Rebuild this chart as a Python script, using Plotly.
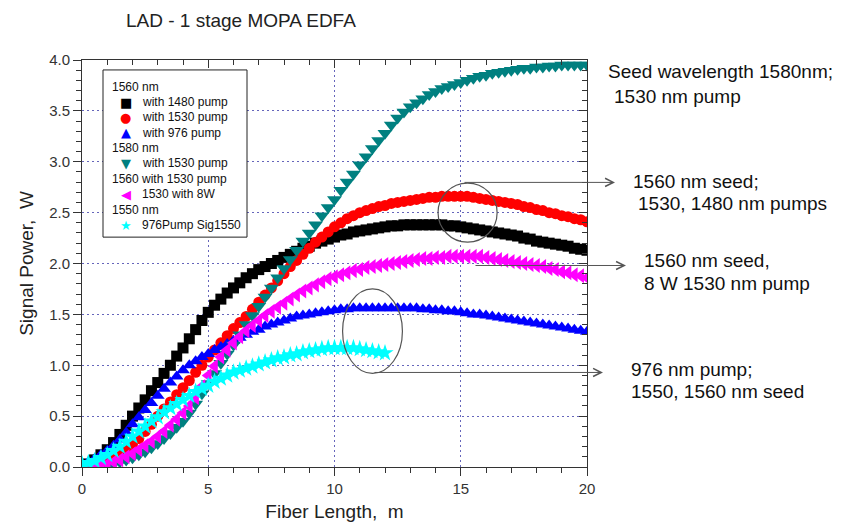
import numpy as np
import plotly.graph_objects as go

# ---------------- data ----------------
fiber_len = np.round(np.arange(0, 20.001, 0.25), 2)      # m
fiber_len_1550 = fiber_len[:49]                           # 0 .. 12 m

sig1560_p1480 = [0.00, 0.03, 0.07, 0.12, 0.17, 0.24, 0.32, 0.41, 0.50, 0.58,
                 0.66, 0.75, 0.83, 0.92, 1.00, 1.09, 1.17, 1.26, 1.35, 1.44,
                 1.52, 1.59, 1.65, 1.71, 1.76, 1.81, 1.86, 1.90, 1.94, 1.97,
                 2.00, 2.03, 2.06, 2.09, 2.12, 2.15, 2.17, 2.20, 2.22, 2.24,
                 2.26, 2.28, 2.29, 2.31, 2.32, 2.33, 2.34, 2.35, 2.36, 2.37,
                 2.37, 2.38, 2.38, 2.38, 2.38, 2.38, 2.38, 2.38, 2.37, 2.37,
                 2.36, 2.35, 2.34, 2.33, 2.32, 2.31, 2.30, 2.29, 2.28, 2.27,
                 2.25, 2.24, 2.22, 2.21, 2.20, 2.19, 2.18, 2.17, 2.15, 2.14,
                 2.13]

sig1560_p1530 = [0.00, 0.00, 0.01, 0.03, 0.05, 0.08, 0.12, 0.17, 0.22, 0.28,
                 0.35, 0.42, 0.50, 0.57, 0.64, 0.71, 0.78, 0.85, 0.93, 1.00,
                 1.08, 1.15, 1.22, 1.29, 1.36, 1.42, 1.48, 1.55, 1.62, 1.69,
                 1.76, 1.83, 1.90, 1.97, 2.03, 2.09, 2.15, 2.21, 2.26, 2.31,
                 2.36, 2.40, 2.44, 2.47, 2.50, 2.52, 2.54, 2.56, 2.57, 2.59,
                 2.60, 2.61, 2.62, 2.63, 2.64, 2.65, 2.65, 2.66, 2.66, 2.66,
                 2.66, 2.66, 2.65, 2.64, 2.63, 2.62, 2.61, 2.60, 2.59, 2.58,
                 2.56, 2.55, 2.53, 2.52, 2.50, 2.49, 2.47, 2.46, 2.44, 2.43,
                 2.41]

sig1560_p976 = [0.02, 0.05, 0.08, 0.12, 0.16, 0.21, 0.27, 0.34, 0.42, 0.49,
                0.56, 0.63, 0.70, 0.77, 0.83, 0.89, 0.95, 1.00, 1.04, 1.08,
                1.11, 1.15, 1.18, 1.21, 1.24, 1.27, 1.30, 1.33, 1.35, 1.38,
                1.40, 1.42, 1.44, 1.46, 1.48, 1.49, 1.50, 1.51, 1.52, 1.53,
                1.54, 1.55, 1.55, 1.56, 1.56, 1.56, 1.56, 1.56, 1.56, 1.56,
                1.56, 1.56, 1.56, 1.56, 1.55, 1.55, 1.54, 1.54, 1.53, 1.53,
                1.52, 1.51, 1.50, 1.50, 1.49, 1.48, 1.47, 1.46, 1.45, 1.44,
                1.43, 1.42, 1.41, 1.40, 1.39, 1.38, 1.37, 1.36, 1.35, 1.34,
                1.33]

sig1580_p1530 = [0.00, 0.00, 0.01, 0.01, 0.02, 0.03, 0.05, 0.07, 0.09, 0.12,
                 0.15, 0.19, 0.23, 0.28, 0.33, 0.39, 0.45, 0.53, 0.62, 0.72,
                 0.82, 0.92, 1.02, 1.11, 1.20, 1.30, 1.40, 1.49, 1.58, 1.67,
                 1.76, 1.86, 1.95, 2.04, 2.13, 2.22, 2.30, 2.38, 2.47, 2.55,
                 2.63, 2.72, 2.80, 2.88, 2.97, 3.05, 3.13, 3.21, 3.28, 3.36,
                 3.43, 3.49, 3.54, 3.58, 3.62, 3.66, 3.69, 3.72, 3.74, 3.76,
                 3.78, 3.80, 3.82, 3.84, 3.85, 3.87, 3.88, 3.89, 3.90, 3.91,
                 3.92, 3.92, 3.93, 3.93, 3.94, 3.94, 3.95, 3.95, 3.95, 3.95,
                 3.95]

sig1560_p1530_8w = [0.00, 0.00, 0.01, 0.02, 0.03, 0.05, 0.07, 0.10, 0.13, 0.17,
                    0.21, 0.25, 0.30, 0.35, 0.41, 0.47, 0.53, 0.60, 0.68, 0.79,
                    0.90, 0.99, 1.08, 1.15, 1.22, 1.28, 1.34, 1.39, 1.44, 1.49,
                    1.53, 1.57, 1.61, 1.65, 1.69, 1.73, 1.76, 1.79, 1.82, 1.85,
                    1.87, 1.89, 1.91, 1.93, 1.94, 1.96, 1.97, 1.98, 1.99, 2.00,
                    2.01, 2.02, 2.03, 2.04, 2.05, 2.05, 2.06, 2.06, 2.07, 2.07,
                    2.07, 2.07, 2.07, 2.07, 2.06, 2.05, 2.04, 2.03, 2.02, 2.01,
                    2.00, 1.99, 1.98, 1.97, 1.95, 1.94, 1.92, 1.91, 1.89, 1.88,
                    1.86]

sig1550_p976 = [0.03, 0.04, 0.06, 0.09, 0.12, 0.16, 0.20, 0.25, 0.30, 0.35,
                0.40, 0.45, 0.49, 0.54, 0.58, 0.62, 0.66, 0.70, 0.74, 0.77,
                0.80, 0.84, 0.87, 0.90, 0.93, 0.95, 0.97, 0.99, 1.01, 1.03,
                1.05, 1.07, 1.08, 1.10, 1.11, 1.13, 1.14, 1.15, 1.16, 1.17,
                1.17, 1.17, 1.17, 1.17, 1.16, 1.15, 1.14, 1.13, 1.12]

x_ticks = [0, 5, 10, 15, 20]
y_ticks = [0.0, 0.5, 1.0, 1.5, 2.0, 2.5, 3.0, 3.5, 4.0]

# ---------------- figure ----------------
W, H = 852, 530
L, R, T, B = 82, 265, 60, 61
PW, PH = W - L - R, H - T - B


def px(xp):
    return (xp - L) / PW


def py(yp):
    return (H - B - yp) / PH


series = [
    ("with 1480 pump", fiber_len, sig1560_p1480, "square", "#000000", 11),
    ("with 1530 pump", fiber_len, sig1560_p1530, "circle", "#ff0000", 11),
    ("with 976 pump", fiber_len, sig1560_p976, "triangle-up", "#0000ff", 12),
    ("1580 nm with 1530 pump", fiber_len, sig1580_p1530, "triangle-down", "#008080", 13),
    ("1530 with 8W", fiber_len, sig1560_p1530_8w, "triangle-left", "#ff00ff", 13),
    ("976Pump Sig1550", fiber_len_1550, sig1550_p976, "star", "#00ffff", 13),
]

fig = go.Figure()
for name, xs, ys, sym, col, size in series:
    fig.add_trace(go.Scatter(
        x=xs, y=ys, mode="markers", name=name, showlegend=False,
        marker=dict(symbol=sym, color=col, size=size, line=dict(width=0)),
    ))
# empty trace so the mirrored (top/right) axes are drawn
fig.add_trace(go.Scatter(x=[], y=[], xaxis="x2", yaxis="y2", showlegend=False))

AX = "#333333"
GRID = "#6666bb"
common = dict(showline=True, linecolor=AX, linewidth=1, zeroline=False,
              tickcolor=AX, tickwidth=1, ticklen=8)

fig.update_layout(
    width=W, height=H,
    margin=dict(l=L, r=R, t=T, b=B, pad=0),
    paper_bgcolor="white", plot_bgcolor="white",
    font=dict(family="Liberation Sans, Arial, sans-serif", color="#222222"),
    title=dict(text="LAD - 1 stage MOPA EDFA", x=126 / W, xanchor="left",
               xref="container", y=1 - 20 / H, yanchor="middle", yref="container",
               font=dict(size=19, color="#222222")),
    xaxis=dict(range=[0, 20], tickvals=x_ticks, ticks="outside",
               showgrid=True, gridcolor=GRID, griddash="2px,3px", gridwidth=1,
               tickfont=dict(size=15, color="#333333"),
               minor=dict(dtick=1, tick0=0, ticks="outside", ticklen=5,
                          tickcolor=AX, showgrid=False),
               title=dict(text="Fiber Length,\u00a0 m", font=dict(size=19, color="#222222"),
                          standoff=8),
               **common),
    yaxis=dict(range=[0, 4], tickvals=y_ticks, tickformat=".1f", ticks="outside",
               showgrid=True, gridcolor=GRID, griddash="2px,3px", gridwidth=1,
               tickfont=dict(size=15, color="#333333"),
               minor=dict(dtick=0.1, tick0=0, ticks="outside", ticklen=5,
                          tickcolor=AX, showgrid=False),
               title=dict(text="Signal Power,\u00a0 W", font=dict(size=19, color="#222222"),
                          standoff=10),
               **common),
    xaxis2=dict(range=[0, 20], overlaying="x", anchor="y2", side="top",
                tickvals=x_ticks, ticks="inside", showticklabels=False, showgrid=False,
                minor=dict(dtick=1, tick0=0, ticks="inside", ticklen=5, tickcolor=AX,
                           showgrid=False),
                **common),
    yaxis2=dict(range=[0, 4], overlaying="y", anchor="x2", side="right",
                tickvals=y_ticks, ticks="inside", showticklabels=False, showgrid=False,
                minor=dict(dtick=0.1, tick0=0, ticks="inside", ticklen=5, tickcolor=AX,
                           showgrid=False),
                **common),
)

shapes = []
annotations = []

# ---------------- legend (drawn manually, like the original) ----------------
shapes.append(dict(type="rect", xref="paper", yref="paper",
                   x0=px(103), x1=px(247), y0=py(238), y1=py(70),
                   line=dict(color="#222222", width=1), fillcolor="white", layer="above"))
legend_rows = [
    ("1560 nm", None, None),
    ("with 1480 pump", "\u25A0", "#000000"),
    ("with 1530 pump", "\u25CF", "#ff0000"),
    ("with 976 pump", "\u25B2", "#0000ff"),
    ("1580 nm", None, None),
    ("with 1530 pump", "\u25BC", "#008080"),
    ("1560 with 1530 pump", None, None),
    ("1530 with 8W", "\u25C0", "#ff00ff"),
    ("1550 nm", None, None),
    ("976Pump Sig1550", "\u2605", "#00ffff"),
]
row_y = [86.7, 102.3, 117.3, 133.3, 148.3, 164.0, 179.3, 195.0, 210.7, 226.0]
for (label, glyph, col), yy in zip(legend_rows, row_y):
    if glyph is None:
        annotations.append(dict(text=label, xref="paper", yref="paper", x=px(109.5), y=py(yy),
                                xanchor="left", yanchor="middle", showarrow=False,
                                font=dict(size=12, color="#111111")))
    else:
        annotations.append(dict(text=glyph, xref="paper", yref="paper", x=px(125.7), y=py(yy),
                                xanchor="center", yanchor="middle", showarrow=False,
                                font=dict(size=13, color=col, family="DejaVu Sans")))
        annotations.append(dict(text=label, xref="paper", yref="paper", x=px(140), y=py(yy),
                                xanchor="left", yanchor="middle", showarrow=False,
                                font=dict(size=12, color="#111111")))

# ---------------- side notes ----------------
notes = [
    ("Seed wavelength 1580nm;", 606, 72),
    ("1530 nm pump", 612, 97),
    ("1560 nm seed;", 631, 182),
    ("1530, 1480 nm pumps", 636, 204),
    ("1560 nm seed,", 642, 261),
    ("8 W 1530 nm pump", 642, 285),
    ("976 nm pump;", 629, 371),
    ("1550, 1560 nm seed", 629, 393),
]
for txt, xx, yy in notes:
    annotations.append(dict(text=txt, xref="paper", yref="paper", x=px(xx), y=py(yy),
                            xanchor="left", yanchor="middle", showarrow=False,
                            font=dict(size=19, color="#111111")))

# arrows
arrows = [(615, 183, 463), (626, 266.5, 474), (603, 374, 373)]
for tipx, yy, tailx in arrows:
    annotations.append(dict(text="", xref="paper", yref="paper", x=px(tipx), y=py(yy),
                            ax=tailx - tipx, ay=0, showarrow=True, arrowhead=5,
                            arrowsize=1.6, arrowwidth=1, arrowcolor="#555555"))

# ellipses
shapes.append(dict(type="circle", xref="x", yref="y", x0=14.1, x1=16.44, y0=2.21, y1=2.79,
                   line=dict(color="#555555", width=1.2)))
shapes.append(dict(type="circle", xref="x", yref="y", x0=10.32, x1=12.69, y0=0.92, y1=1.75,
                   line=dict(color="#555555", width=1.2)))

fig.update_layout(shapes=shapes, annotations=annotations)
fig.write_html("out.html")
